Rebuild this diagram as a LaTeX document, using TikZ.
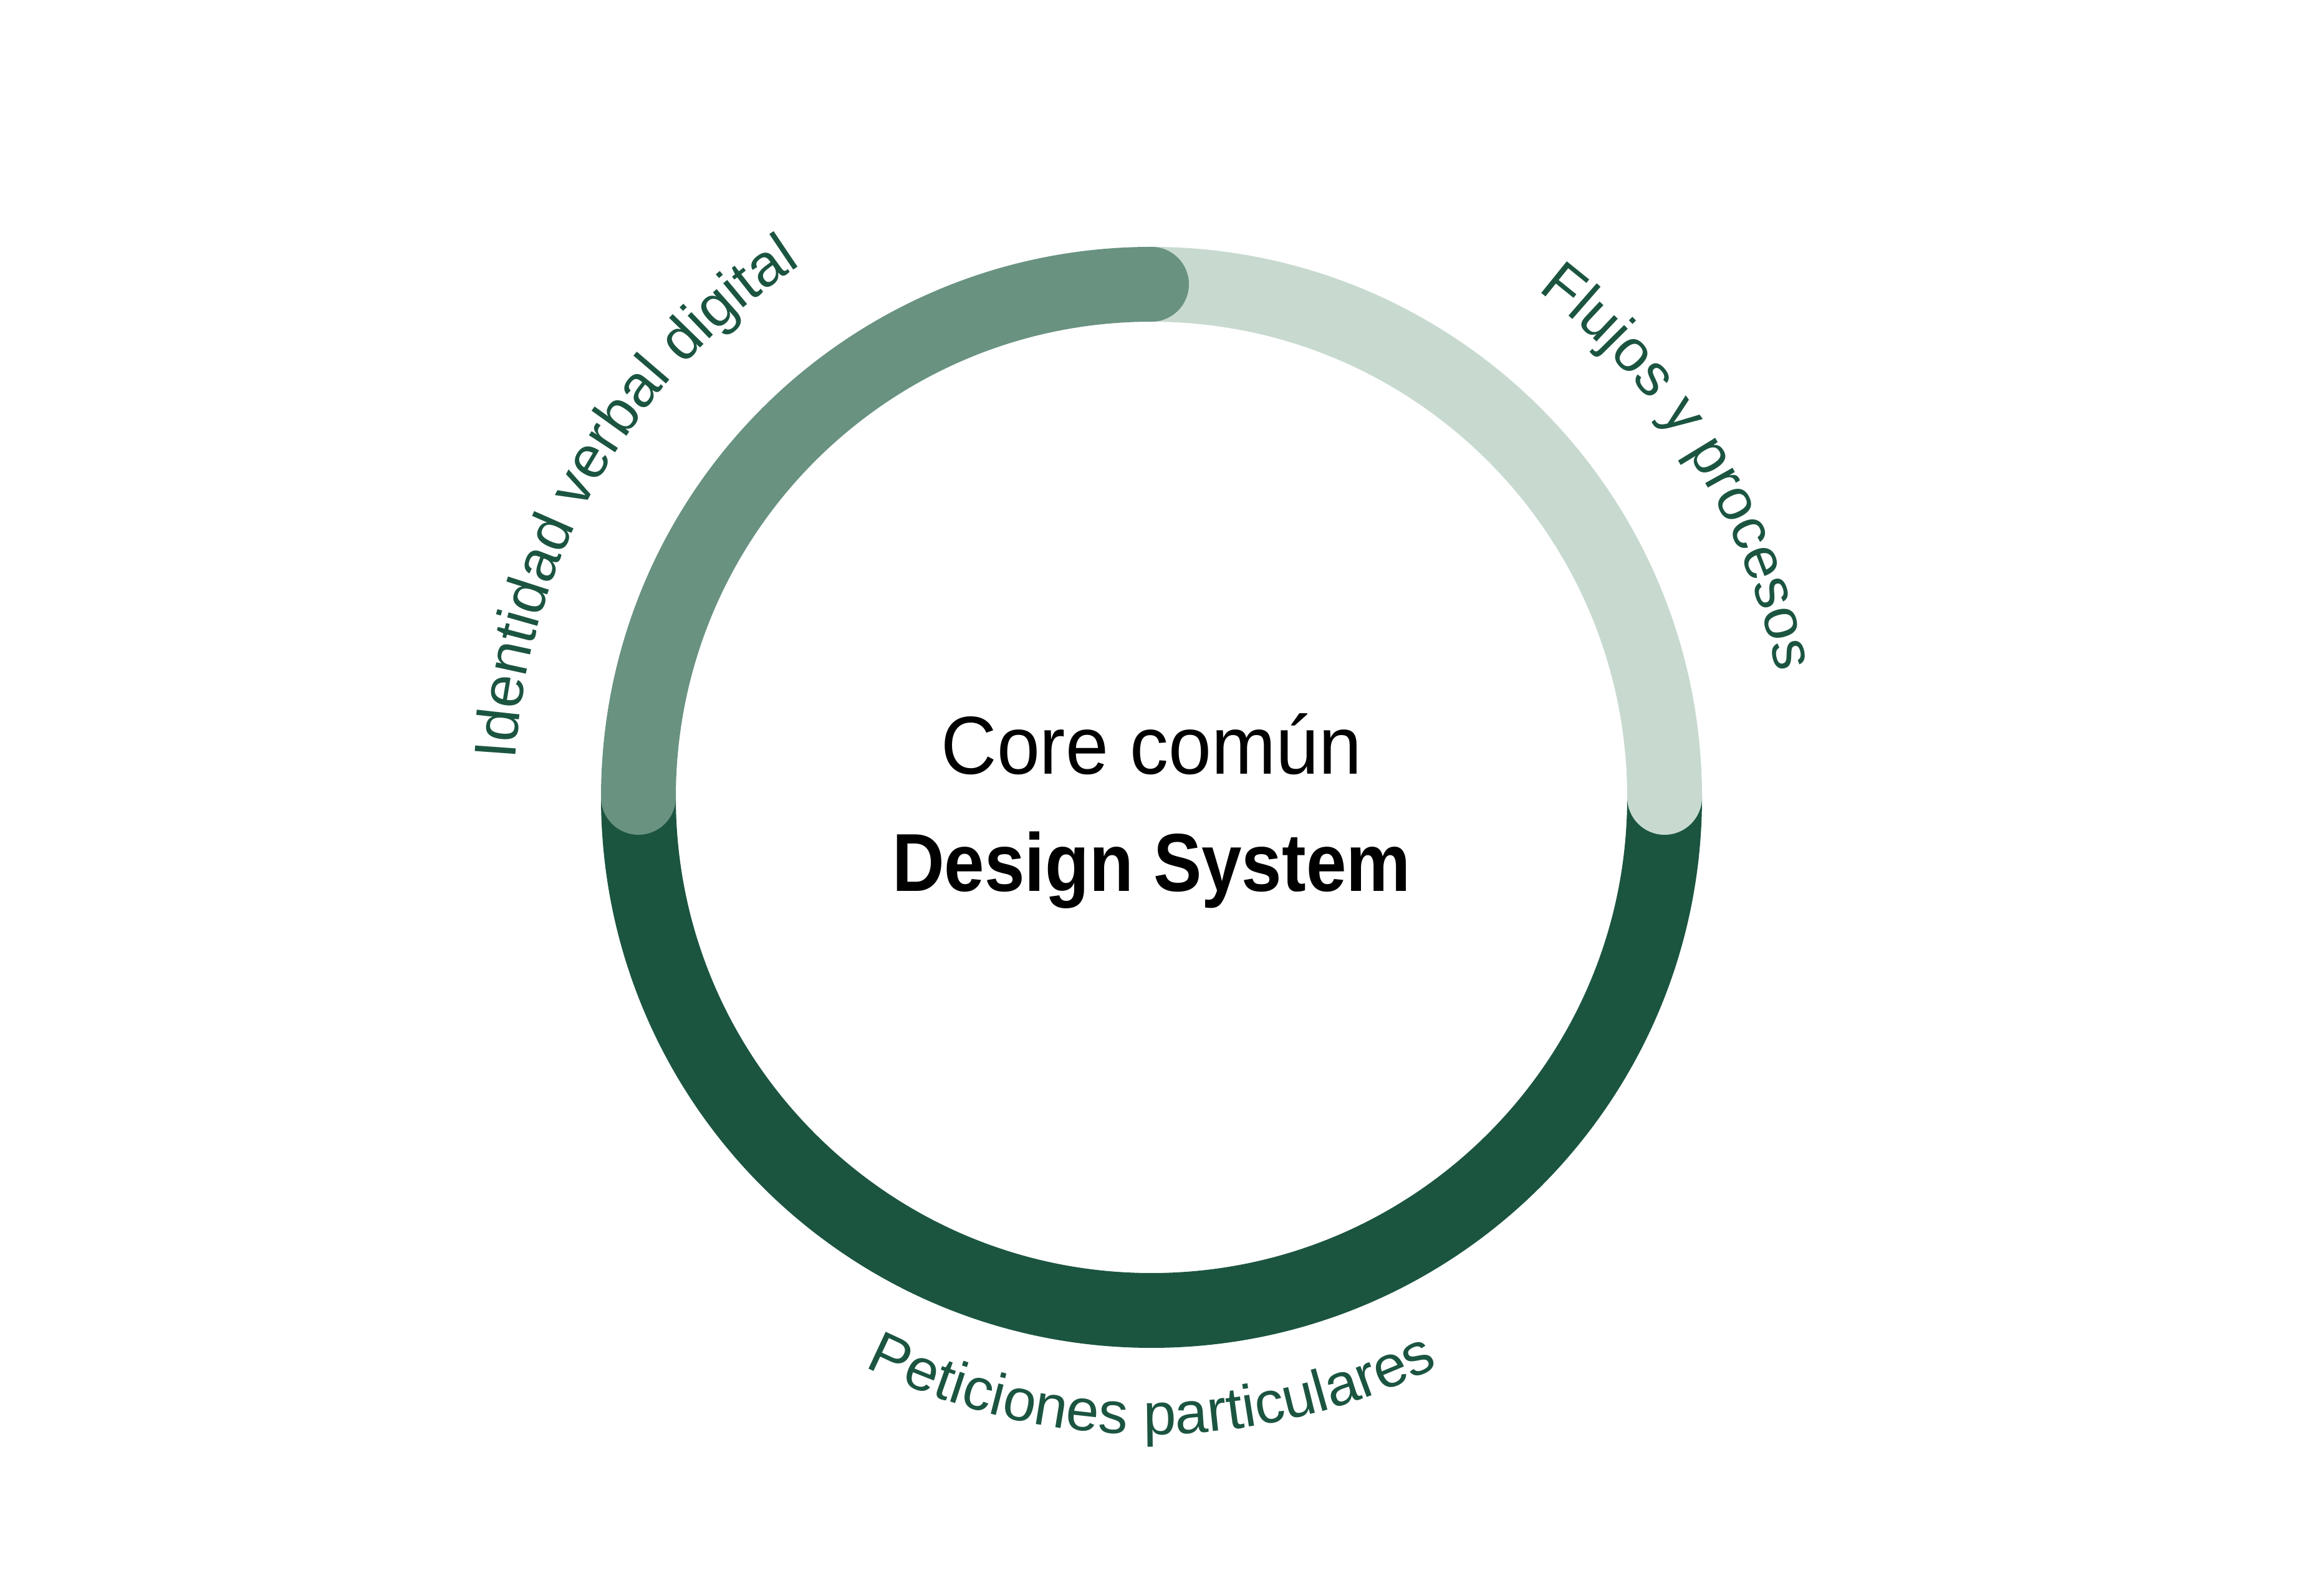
\documentclass[tikz,border=0pt]{standalone}
\usepackage{fontspec}
\setmainfont{Liberation Sans}
\newfontfamily\corefont[FakeStretch=0.94]{Liberation Sans}
\newfontfamily\designfont[FakeStretch=0.88]{Liberation Sans}
\usetikzlibrary{positioning,calc}
\usetikzlibrary{decorations.text}
\definecolor{dsdark}{HTML}{1B5540}
\definecolor{dsmid}{HTML}{699281}
\definecolor{dslight}{HTML}{C8DAD0}
\newcommand{\labelsize}{\fontsize{27}{31}\selectfont}
\tikzset{
  ring/.style={line width=1.2cm},
  ringcap/.style={ring, line cap=round},
  curvedlabel/.style={decorate,
    decoration={text along path, text align=center, text color=dsdark,
      text={|\labelsize|#1}}}
}

\begin{document}
\begin{tikzpicture}
    \useasboundingbox (0,0) rectangle (36.94,25.60);
    \coordinate (c0) at (18.47,12.81);

    % ring segments
    \draw[ring, dsdark] ($(c0)+(180:8.23)$) arc[start angle=180, end angle=360, radius=8.23];
    \draw[ringcap, dslight] ($(c0)+(90:8.23)$) arc[start angle=90, end angle=0, radius=8.23];
    \draw[ringcap, dsmid] ($(c0)+(180:8.23)$) arc[start angle=180, end angle=90, radius=8.23];

    \node[anchor=base, inner sep=0pt] (core) at ($(c0)+(0,0.37)$) {\corefont\fontsize{37.5}{40}\selectfont Core común};
    \node[anchor=base, inner sep=0pt] (design) at ($(c0)+(0,-1.51)$) {\designfont\bfseries\fontsize{37.5}{40}\selectfont Design System};

    % labels along the ring
    \path[curvedlabel={Identidad verbal digital}] ($(c0)+(190:10.22)$) arc[start angle=190, end angle=110, radius=10.22];
    \path[curvedlabel={Flujos y procesos}] ($(c0)+(62:10.22)$) arc[start angle=62, end angle=2, radius=10.22];
    \path[curvedlabel={Peticiones particulares}] ($(c0)+(230:10.22)$) arc[start angle=230, end angle=310, radius=10.22];

\end{tikzpicture}
\end{document}
